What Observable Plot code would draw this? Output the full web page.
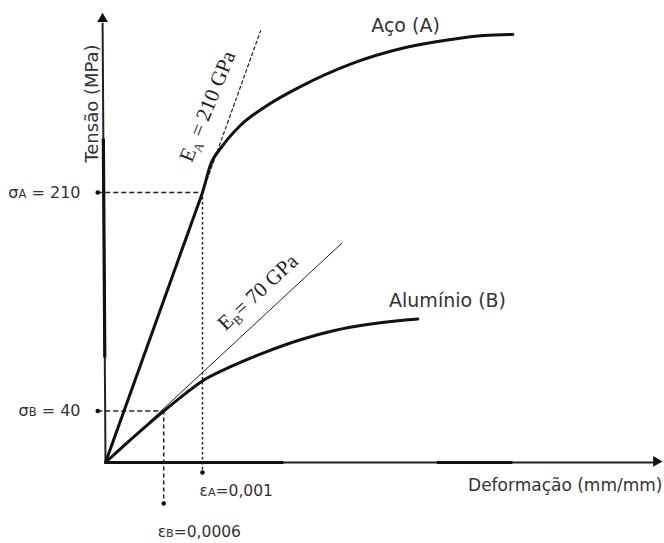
<!DOCTYPE html>
<html><head><meta charset="utf-8">
<script src="https://cdn.jsdelivr.net/npm/d3@7"></script>
<script src="https://cdn.jsdelivr.net/npm/@observablehq/plot@0.6"></script>
<style>body{margin:0;background:#fff}</style>
</head><body><div id="chart"></div>
<script>
// Stress-strain curves (strain in mm/mm, stress in MPa)
const steelStrain = [0, 0.0005, 0.00095, 0.001, 0.00108, 0.00121, 0.00139, 0.00165, 0.00201, 0.00254, 0.00305, 0.00356, 0.0039, 0.0042];
const steelStress = [0, 105, 199.5, 210, 231, 246.6, 262.1, 276.9, 292.4, 310.3, 322, 329, 332.1, 332.9];
const alStrain = [0, 0.0003, 0.0006, 0.00083, 0.00098, 0.00129, 0.00167, 0.00201, 0.00235, 0.0027, 0.00304, 0.00322];
const alStress = [0, 20.5, 40, 54, 62.5, 74.5, 86.5, 95.5, 102.5, 107.3, 110.4, 111.6];
const moduli = [210000, 70000];          // MPa
const moduliEnd = [0.0016, 0.00244];     // strain where each modulus line ends
const stressTicks = [210, 40];
const stressLabels = ["σ_A = 210", "σ_B = 40"];
const strainTicks = [0.001, 0.0006];
const strainLabels = ["ε_A=0,001", "ε_B=0,0006"];
const moduliLabels = ["E_A = 210 GPa", "E_B= 70 GPa"];
const seriesLabels = ["Aço (A)", "Alumínio (B)"];
const axisLabels = ["Deformação (mm/mm)", "Tensão (MPa)"];

const sans = "DejaVu Sans";
const serif = "Liberation Serif";
const ink = "#333";
const tilt = -0.00003 / 342; // slight lean of the drawn vertical axis

const chart = Plot.plot({
  width: 664,
  height: 543,
  x: {axis: null, domain: [0, 0.001], range: [105, 202]},
  y: {axis: null, domain: [0, 210], range: [462, 192]},
  marks: [
    // axes
    Plot.link([0], {x1: 0, y1: 0, x2: 342 * tilt, y2: 342, stroke: "#222", strokeWidth: 2}),
    Plot.link([0], {x1: 81.7 * tilt, y1: 81.7, x2: 252 * tilt, y2: 252, stroke: "#111", strokeWidth: 3.2}),
    Plot.ruleY([0], {x1: 0, x2: 0.00565, stroke: "#222", strokeWidth: 2}),
    Plot.ruleY([0], {x1: 0, x2: 0.00184, stroke: "#111", strokeWidth: 3.2}),
    Plot.ruleY([0], {x1: 0.00342, x2: 0.0042, stroke: "#111", strokeWidth: 3}),
    Plot.dot([0], {x: 345 * tilt, y: 345, symbol: "triangle", r: 4, fill: "#111", stroke: "none"}),
    Plot.dot([0], {x: 0.005678, y: 0.8, symbol: "triangle", r: 4, rotate: 90, fill: "#111", stroke: "none"}),
    // modulus lines
    Plot.link([0], {x1: 0, y1: 0, x2: moduliEnd[0], y2: moduli[0] * moduliEnd[0], stroke: "#222", strokeWidth: 1.2, strokeDasharray: "4,2"}),
    Plot.link([0], {x1: 0, y1: 0, x2: moduliEnd[1], y2: moduli[1] * moduliEnd[1], stroke: "#222", strokeWidth: 1}),
    // guide lines
    Plot.ruleY(stressTicks, {x1: -0.00008, x2: (d, i) => strainTicks[i], stroke: "#222", strokeWidth: 1.5, strokeDasharray: "5,3"}),
    Plot.ruleX([strainTicks[0]], {y1: stressTicks[0], y2: -7.8, stroke: "#222", strokeWidth: 1.5, strokeDasharray: "2.5,2.5"}),
    Plot.ruleX([strainTicks[1]], {y1: stressTicks[1], y2: -31.9, stroke: "#222", strokeWidth: 1.5, strokeDasharray: "4,3"}),
    Plot.dot(stressTicks, {x: -0.00008, y: d => d, r: 2.3, fill: "#111", stroke: "none"}),
    Plot.dot([strainTicks[0]], {x: d => d, y: -7.8, r: 2.3, fill: "#111", stroke: "none"}),
    Plot.dot([strainTicks[1]], {x: d => d, y: -31.9, r: 2.3, fill: "#111", stroke: "none"}),
    // curves
    Plot.line(steelStrain, {x: d => d, y: (d, i) => steelStress[i], curve: "monotone-x", stroke: "#111", strokeWidth: 3}),
    Plot.line(alStrain, {x: d => d, y: (d, i) => alStress[i], curve: "monotone-x", stroke: "#111", strokeWidth: 3}),
    // tick labels
    Plot.text(stressTicks, {x: 0, y: d => d, text: (d, i) => stressLabels[i], textAnchor: "end", dx: -25, fontSize: 16, fill: ink, fontFamily: sans}),
    Plot.text([strainLabels[0]], {x: strainTicks[0], y: 0, text: d => d, textAnchor: "start", dx: -3, dy: 29, fontSize: 15.5, fill: ink, fontFamily: sans}),
    Plot.text([strainLabels[1]], {x: strainTicks[1], y: 0, text: d => d, textAnchor: "start", dx: -6, dy: 70, fontSize: 15.5, fill: ink, fontFamily: sans}),
    // modulus labels
    Plot.text([moduliLabels[0]], {x: 0.001319, y: moduli[0] * 0.001319, text: d => d, rotate: -68, dx: -26, fontSize: 21, fill: "#222", fontFamily: serif}),
    Plot.text([moduliLabels[1]], {x: 0.00157, y: moduli[1] * 0.00157, text: d => d, rotate: -43, dy: -29, fontSize: 21, fill: "#222", fontFamily: serif}),
    // series labels
    Plot.text([seriesLabels[0]], {x: 0.003093, y: 339.9, text: d => d, fontSize: 19, fill: ink, fontFamily: sans}),
    Plot.text([seriesLabels[1]], {x: 0.003526, y: 126, text: d => d, fontSize: 19, fill: ink, fontFamily: sans}),
    // axis titles
    Plot.text([axisLabels[0]], {x: 0.005742, y: 0, text: d => d, textAnchor: "end", dy: 23, fontSize: 17, fill: ink, fontFamily: sans}),
    Plot.text([axisLabels[1]], {x: 0, y: 279.2, text: d => d, rotate: -90, dx: -13, fontSize: 18, fill: ink, fontFamily: sans})
  ]
});

// subscripts: "X_Yrest" -> X, small Y, rest
d3.select(chart).selectAll("text").each(function () {
  const s = this.textContent;
  const m = s.match(/^(.*?)_(.)(.*)$/);
  if (!m) return;
  const g = this.closest("g");
  const isSerif = /Serif/.test(g.getAttribute("font-family") || "");
  const fs = +(g.getAttribute("font-size") || 16);
  const sel = d3.select(this);
  sel.text(null);
  sel.append("tspan").text(m[1]);
  const shift = isSerif ? fs * 0.22 : 0;
  sel.append("tspan").attr("font-size", fs * (isSerif ? 0.6 : 0.72)).attr("dy", shift || null).text(m[2]);
  sel.append("tspan").attr("dy", shift ? -shift : null).text(m[3]);
});

document.getElementById("chart").append(chart);
</script>
</body></html>
